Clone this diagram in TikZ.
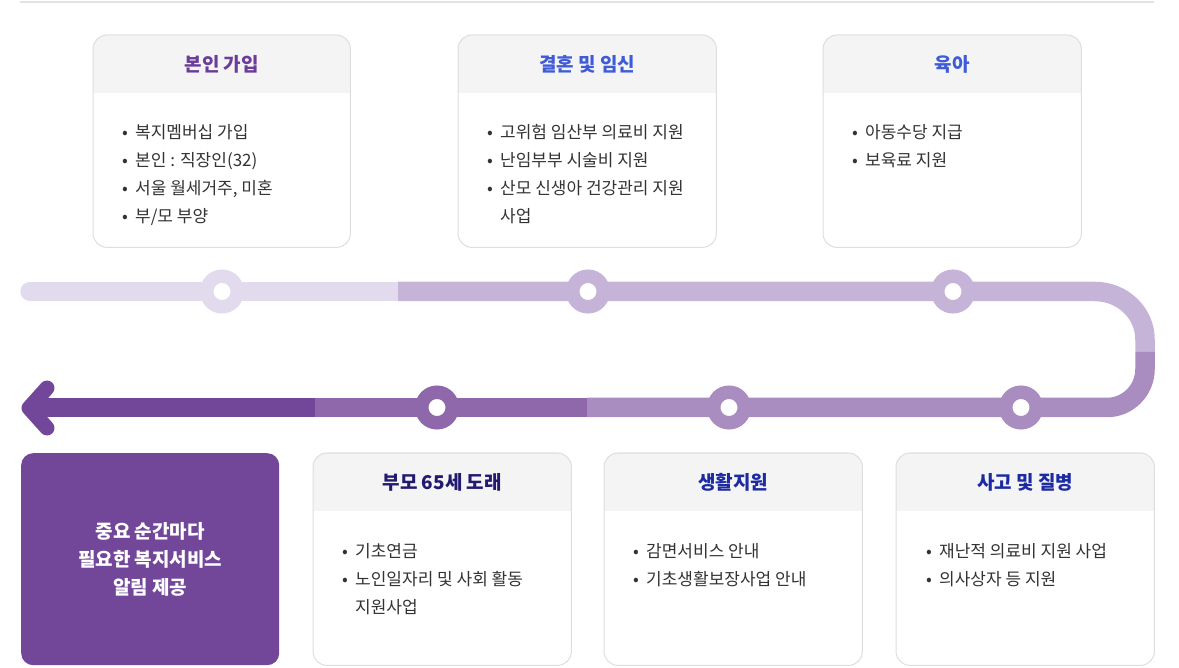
\documentclass[tikz,border=0pt]{standalone}
\usepackage{fontspec}
\setmainfont{Noto Sans CJK KR}
\usetikzlibrary{calc}
\definecolor{cA}{HTML}{E2DBEE}
\definecolor{cB}{HTML}{C5B3D8}
\definecolor{cC}{HTML}{A98CC0}
\definecolor{cD}{HTML}{8E68AB}
\definecolor{cE}{HTML}{724799}
\definecolor{bordc}{HTML}{DEDEDE}
\definecolor{hdrc}{HTML}{F4F4F4}
\definecolor{bodyc}{HTML}{333333}
\definecolor{tPurple}{HTML}{6A3D9A}
\definecolor{tBlue}{HTML}{3F5BD8}
\definecolor{tNavy}{HTML}{231A70}
\definecolor{tDblue}{HTML}{1C2AA3}
\definecolor{sepc}{HTML}{E3E3E3}
\tikzset{
  track/.style={line width=19.5pt},
  dotring/.style={circle,draw=#1,fill=white,line width=13.5pt,minimum size=30.5pt,inner sep=0pt},
  cardtitle/.style={font=\fontsize{19}{23}\selectfont\bfseries,anchor=center,inner sep=0pt},
  bul/.style={font=\fontsize{17}{21}\selectfont,text=bodyc,anchor=base west,inner sep=0pt},
}
\newcommand\blt{\makebox[13pt][l]{•}}
% name, left x, top y, width, height, header height, title, title colour
\newcommand\card[8]{%
  \node[rectangle,rounded corners=14pt,fill=white,minimum width=#4pt,minimum height=#5pt,inner sep=0pt,anchor=north west] (#1) at (#2,#3) {};
  \begin{scope}
    \clip[rounded corners=14pt] (#1.south west) rectangle (#1.north east);
    \fill[hdrc] (#1.north west) rectangle ($(#1.north east)+(0,-#6pt)$);
  \end{scope}
  \draw[bordc,line width=1pt,rounded corners=14pt] (#1.south west) rectangle (#1.north east);
  \node[cardtitle,text=#8] (#1-t) at ($(#1.north)+(0,-29.5pt)$) {#7};
}
\begin{document}
\begin{tikzpicture}[x=1pt,y=-1pt]
\useasboundingbox (0,0) rectangle (1179,668);
\coordinate (s1) at (20,2);
\coordinate (s2) at (1154,2);
\draw[sepc,line width=1.5pt] (s1) -- (s2);

% cards top
\card{k1}{93}{35}{257}{212}{58}{본인 가입}{tPurple}
\card{k2}{458}{35}{258}{212}{58}{결혼 및 임신}{tBlue}
\card{k3}{823}{35}{258}{212}{58}{육아}{tBlue}
% cards bottom
\card{k4}{313}{453}{258}{212}{58}{부모 65세 도래}{tNavy}
\card{k5}{604}{453}{258}{212}{58}{생활지원}{tDblue}
\card{k6}{896}{453}{258}{212}{58}{사고 및 질병}{tDblue}

\node[rectangle,rounded corners=12pt,fill=cE,minimum width=258pt,minimum height=212pt,inner sep=0pt,anchor=north west] (main) at (21,453) {};
\node[font=\fontsize{19}{28}\selectfont\bfseries,text=white,align=center,inner sep=0pt] (main-t) at ($(main.center)+(0,0.5)$) {중요 순간마다\\필요한 복지서비스\\알림 제공};

% bullets top
\node[bul] (b11) at (122,138.5) {\blt 복지멤버십 가입};
\node[bul] (b12) at (122,166.5) {\blt 본인 : 직장인(32)};
\node[bul] (b13) at (122,194.5) {\blt 서울 월세거주, 미혼};
\node[bul] (b14) at (122,222.5) {\blt 부/모 부양};
\node[bul] (b21) at (487,138.5) {\blt 고위험 임산부 의료비 지원};
\node[bul] (b22) at (487,166.5) {\blt 난임부부 시술비 지원};
\node[bul] (b23) at (487,194.5) {\blt 산모 신생아 건강관리 지원};
\node[bul] (b24) at (500,222.5) {사업};
\node[bul] (b31) at (852,138.5) {\blt 아동수당 지급};
\node[bul] (b32) at (852,166.5) {\blt 보육료 지원};
% bullets bottom
\node[bul] (b41) at (342,557.5) {\blt 기초연금};
\node[bul] (b42) at (342,585.5) {\blt 노인일자리 및 사회 활동};
\node[bul] (b43) at (355,613.5) {지원사업};
\node[bul] (b51) at (633,557.5) {\blt 감면서비스 안내};
\node[bul] (b52) at (633,585.5) {\blt 기초생활보장사업 안내};
\node[bul] (b61) at (926,557.5) {\blt 재난적 의료비 지원 사업};
\node[bul] (b62) at (926,585.5) {\blt 의사상자 등 지원};

% timeline
\coordinate (p0) at (30,291.5);
\coordinate (p1) at (398,291.5);
\coordinate (p2) at (1145,352);
\coordinate (p3) at (587,407.5);
\coordinate (p4) at (315,407.5);
\coordinate (p5) at (30,407.5);
\draw[track,cA,line cap=round] (p0) -- (p1);
\draw[track,cB] (p1) -- (1095,291.5) arc[start angle=-90,end angle=0,x radius=50,y radius=48] -- (p2);
\draw[track,cC] (p2) -- (1145,369) arc[start angle=0,end angle=90,x radius=38,y radius=38.5] -- (p3);
\draw[track,cD] (p3) -- (p4);
\draw[track,cE] (p4) -- (p5);
\coordinate (h1) at (47,388);
\coordinate (h0) at (29,408);
\coordinate (h2) at (47,428);
\draw[cE,line width=15pt,line cap=round,line join=round] (h1) -- (h0) -- (h2);

\node[dotring=cA] (d1) at (222,291.5) {};
\node[dotring=cB] (d2) at (588,291.5) {};
\node[dotring=cB] (d3) at (953,291.5) {};
\node[dotring=cD] (d4) at (437,407.5) {};
\node[dotring=cC] (d5) at (729,407.5) {};
\node[dotring=cC] (d6) at (1021,407.5) {};
\end{tikzpicture}
\end{document}
